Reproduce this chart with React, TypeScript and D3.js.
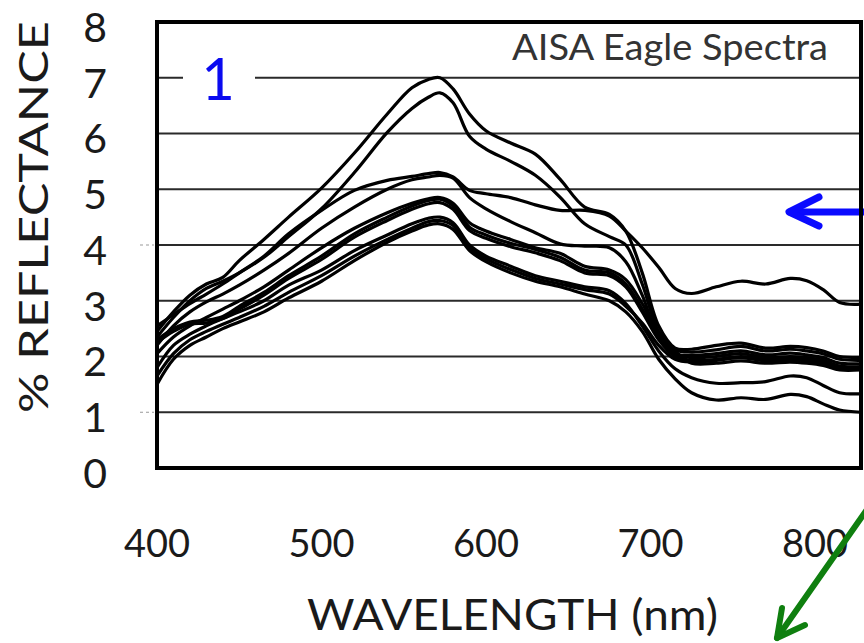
import React from "react";
import * as d3 from "d3";

const wavelengths = [400, 410, 420, 430, 440, 450, 465, 480, 500, 520, 540, 555, 565, 572, 580, 590, 600, 615, 630, 645, 660, 675, 685, 695, 705, 715, 725, 740, 755, 770, 785, 795, 805, 815, 828];

const spectrumA = [2.45, 2.8, 3.1, 3.3, 3.42, 3.72, 4.1, 4.5, 5.02, 5.65, 6.35, 6.82, 6.97, 7.0, 6.8, 6.35, 6.05, 5.83, 5.63, 5.18, 4.68, 4.55, 4.25, 3.5, 2.55, 2.15, 2.13, 2.2, 2.24, 2.15, 2.18, 2.16, 2.1, 2.0, 1.98];
const spectrumB = [2.35, 2.7, 3.0, 3.22, 3.35, 3.5, 3.78, 4.15, 4.65, 5.3, 6.02, 6.45, 6.65, 6.73, 6.55, 5.95, 5.72, 5.5, 5.25, 4.86, 4.38, 4.15, 4.0, 3.3, 2.45, 2.12, 2.08, 2.12, 2.18, 2.1, 2.13, 2.1, 2.05, 1.95, 1.93];
const spectrumC = [2.55, 2.75, 2.95, 3.12, 3.3, 3.5, 3.8, 4.2, 4.62, 4.98, 5.16, 5.23, 5.28, 5.3, 5.22, 4.98, 4.92, 4.85, 4.72, 4.62, 4.62, 4.52, 4.25, 3.95, 3.6, 3.22, 3.13, 3.25, 3.35, 3.3, 3.4, 3.36, 3.2, 2.97, 2.94];
const spectrumD = [2.2, 2.55, 2.8, 2.98, 3.12, 3.28, 3.55, 3.85, 4.3, 4.68, 5.0, 5.17, 5.22, 5.25, 5.2, 4.85, 4.65, 4.42, 4.22, 4.02, 3.98, 3.95, 3.7, 3.1, 2.35, 2.05, 2.02, 2.05, 2.1, 2.03, 2.06, 2.03, 1.98, 1.88, 1.87];
const spectrumE = [2.3, 2.5, 2.62, 2.65, 2.72, 2.9, 3.15, 3.45, 3.8, 4.2, 4.5, 4.7, 4.8, 4.82, 4.7, 4.32, 4.18, 4.03, 3.92, 3.78, 3.55, 3.5, 3.3, 2.85, 2.35, 2.05, 1.98, 2.0, 2.05, 1.98, 2.0, 1.98, 1.93, 1.83, 1.82];
const spectrumF = [2.25, 2.45, 2.58, 2.6, 2.68, 2.85, 3.1, 3.4, 3.74, 4.14, 4.44, 4.64, 4.74, 4.76, 4.64, 4.26, 4.12, 3.97, 3.86, 3.72, 3.5, 3.45, 3.25, 2.8, 2.3, 2.0, 1.93, 1.95, 2.0, 1.95, 1.97, 1.94, 1.9, 1.8, 1.79];
const spectrumG = [2.05, 2.35, 2.55, 2.7, 2.85, 3.0, 3.25, 3.55, 3.95, 4.3, 4.58, 4.75, 4.83, 4.85, 4.75, 4.4, 4.25, 4.1, 3.95, 3.85, 3.62, 3.55, 3.38, 2.95, 2.4, 2.1, 1.88, 1.88, 1.92, 1.88, 1.9, 1.88, 1.84, 1.76, 1.76];
const spectrumH = [1.8, 2.2, 2.4, 2.55, 2.68, 2.8, 3.0, 3.28, 3.55, 3.9, 4.18, 4.38, 4.48, 4.5, 4.4, 4.0, 3.8, 3.62, 3.45, 3.35, 3.25, 3.18, 2.95, 2.55, 2.1, 1.78, 1.62, 1.52, 1.53, 1.55, 1.65, 1.62, 1.48, 1.35, 1.33];
const spectrumI = [1.5, 1.95, 2.2, 2.35, 2.5, 2.62, 2.8, 3.05, 3.35, 3.72, 4.05, 4.25, 4.36, 4.38, 4.28, 3.9, 3.7, 3.5, 3.35, 3.25, 3.12, 3.0, 2.8, 2.45, 1.95, 1.6, 1.35, 1.22, 1.26, 1.23, 1.32, 1.28, 1.15, 1.04, 1.0];
const spectrumJ = [1.65, 2.05, 2.3, 2.45, 2.58, 2.7, 2.9, 3.15, 3.45, 3.8, 4.1, 4.3, 4.42, 4.44, 4.35, 3.95, 3.75, 3.56, 3.4, 3.3, 3.2, 3.12, 2.9, 2.6, 2.2, 1.95, 1.9, 1.93, 1.98, 1.92, 1.95, 1.92, 1.86, 1.8, 1.8];

const allSpectra = [spectrumA, spectrumB, spectrumC, spectrumD, spectrumE, spectrumF, spectrumG, spectrumH, spectrumI, spectrumJ];

const yTicks = [0, 1, 2, 3, 4, 5, 6, 7, 8];
const gridValues = [1, 2, 3, 4, 5, 6, 7];
const xTicks = [400, 500, 600, 700, 800];
const stubTicks = [1, 4];

const chartTitle = "AISA Eagle Spectra";
const xTitle = "WAVELENGTH (nm)";
const yTitle = "% REFLECTANCE";
const panelLabel = "1";

const FONT = "Lato, 'Open Sans', sans-serif";

export default function App() {
  const W = 864;
  const H = 643;
  const left = 157;
  const right = 861;
  const top = 22;
  const bottom = 468;

  const x = d3.scaleLinear().domain([400, 828]).range([left, right]);
  const y = d3.scaleLinear().domain([0, 8]).range([bottom, top]);

  const line = d3
    .line<number>()
    .x((_, i) => x(wavelengths[i]))
    .y((d) => y(d))
    .curve(d3.curveCatmullRom.alpha(0.5));

  return (
    <svg width={W} height={H} style={{ position: "absolute", left: 0, top: 0, background: "#fff" }}>
      <rect x={0} y={0} width={W} height={H} fill="#fff" />
      <defs>
        <clipPath id="plotClip">
          <rect x={left} y={top} width={right - left} height={bottom - top} />
        </clipPath>
      </defs>

      {/* grid lines */}
      {gridValues.map((v) => (
        <line key={v} x1={left} x2={right} y1={y(v)} y2={y(v)} stroke="#2a2a2a" strokeWidth={1.8} />
      ))}

      {/* stub ticks outside left */}
      {stubTicks.map((v) => (
        <line key={"s" + v} x1={140} x2={154} y1={y(v)} y2={y(v)} stroke="#999" strokeWidth={1} strokeDasharray="3,3" />
      ))}

      {/* panel label with white box */}
      <rect x={183} y={44} width={72} height={60} fill="#fff" />
      <text x={218} y={100} fill="#0a0af0" fontFamily={FONT} fontSize={58} textAnchor="middle">
        {panelLabel}
      </text>

      {/* spectra */}
      <g clipPath="url(#plotClip)">
        {allSpectra.map((s, i) => (
          <path key={i} d={line(s) || ""} fill="none" stroke="#000" strokeWidth={3.2} strokeLinejoin="round" />
        ))}
      </g>

      {/* blue arrow */}
      <g stroke="#0a0aff" strokeWidth={7} strokeLinecap="round" fill="none">
        <line x1={790} y1={212} x2={870} y2={212} />
        <polyline points="819,197 789,212 819,226" strokeLinejoin="round" />
      </g>

      {/* plot border */}
      <rect x={left} y={top} width={right - left} height={bottom - top} fill="none" stroke="#000" strokeWidth={4} />

      {/* chart title */}
      <text x={512} y={60} fill="#333" fontFamily={FONT} fontSize={36} textLength={316} lengthAdjust="spacingAndGlyphs">
        {chartTitle}
      </text>

      {/* y tick labels */}
      {yTicks.map((v) => (
        <text key={v} x={107} y={y(v) + 5} dy="0.36em" textAnchor="end" fill="#1a1a1a" fontFamily={FONT} fontSize={41}>
          {v}
        </text>
      ))}

      {/* x tick labels */}
      {xTicks.map((v) => (
        <text key={v} x={x(v)} y={557} textAnchor="middle" fill="#1a1a1a" fontFamily={FONT} fontSize={38}>
          {v}
        </text>
      ))}

      {/* axis titles */}
      <text x={307} y={630} fill="#1a1a1a" fontFamily={FONT} fontSize={42} textLength={411} lengthAdjust="spacingAndGlyphs">
        {xTitle}
      </text>
      <text
        transform={`translate(48, 413) rotate(-90)`}
        fill="#1a1a1a"
        fontFamily={FONT}
        fontSize={40}
        textLength={392}
        lengthAdjust="spacingAndGlyphs"
      >
        {yTitle}
      </text>

      {/* green arrow */}
      <g stroke="#0f7f0f" strokeWidth={6} strokeLinecap="round" fill="none">
        <line x1={868} y1={508} x2={777} y2={638} />
        <polyline points="782,608 777,638 805,625" strokeLinejoin="round" />
      </g>
    </svg>
  );
}
